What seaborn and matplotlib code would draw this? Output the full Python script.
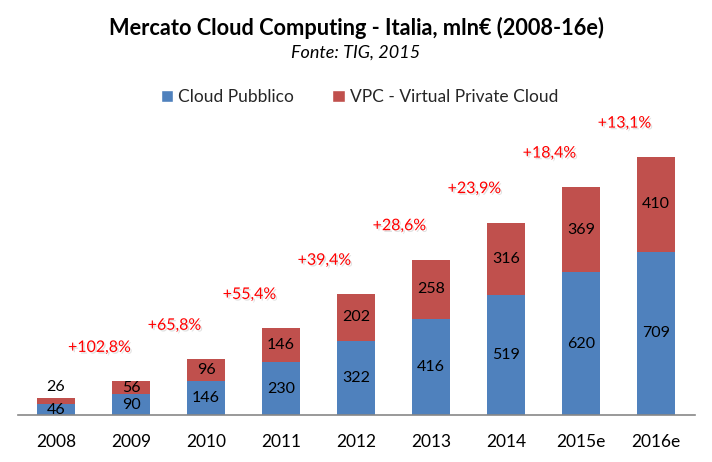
import matplotlib
matplotlib.use('Agg')
import matplotlib.pyplot as plt
import matplotlib.patheffects as pe
from matplotlib.patches import Patch
import pandas as pd
import seaborn as sns

# Values (mln€)
years = ['2008', '2009', '2010', '2011', '2012', '2013', '2014', '2015e', '2016e']
cloud_pubblico = [46, 90, 146, 230, 322, 416, 519, 620, 709]
vpc = [26, 56, 96, 146, 202, 258, 316, 369, 410]
growth_labels = ['+102,8%', '+65,8%', '+55,4%', '+39,4%', '+28,6%',
                 '+23,9%', '+18,4%', '+13,1%']

blue = '#4F81BD'
red = '#C0504D'

sns.set_theme(style='white')
plt.rcParams['font.family'] = ['Lato', 'DejaVu Sans']

df = pd.DataFrame({'anno': years, 'pubblico': cloud_pubblico, 'vpc': vpc})
df['totale'] = df['pubblico'] + df['vpc']

fig = plt.figure(figsize=(7.12, 4.62), dpi=100)
ax = fig.add_axes([0.0253, 0.1017, 0.9508, 0.6602])

# stacked bars: total in red, public cloud in blue drawn over it
sns.barplot(data=df, x='anno', y='totale', color=red, saturation=1, width=0.51,
            linewidth=0, ax=ax)
sns.barplot(data=df, x='anno', y='pubblico', color=blue, saturation=1, width=0.51,
            linewidth=0, ax=ax)

ax.set_xlim(-0.507, 8.52)
ax.set_ylim(0, 1323)
ax.set(xlabel='', ylabel='', yticks=[])
for s in ['top', 'left', 'right']:
    ax.spines[s].set_visible(False)
ax.spines['bottom'].set_color('#888888')
ax.spines['bottom'].set_linewidth(1.2)
ax.tick_params(axis='x', length=0, pad=14, labelsize=12.5, labelcolor='black')

# segment labels
for i, row in df.iterrows():
    ax.text(i, row['pubblico'] / 2, str(row['pubblico']), ha='center', va='center',
            fontsize=11.5, color='black')
    if row['vpc'] < 40:
        ax.text(i, row['totale'] + 18, str(row['vpc']), ha='center', va='bottom',
                fontsize=11.5, color='black')
    else:
        ax.text(i, row['pubblico'] + row['vpc'] / 2, str(row['vpc']), ha='center',
                va='center', fontsize=11.5, color='black')

# growth labels, placed up-left of each bar from 2009 on, soft shadow like Excel
shadow = [pe.SimplePatchShadow(offset=(1.2, -1.2), shadow_rgbFace='#999999', alpha=0.3),
          pe.Normal()]
for i, lab in enumerate(growth_labels, start=1):
    t = ax.text(i - 0.42, df['totale'][i] + 145, lab, ha='center', va='center',
                fontsize=11.5, color='#FF0000')
    t.set_path_effects(shadow)

fig.text(0.5, 0.94, 'Mercato Cloud Computing - Italia, mln€ (2008-16e)',
         ha='center', va='center', fontsize=15.7, fontweight='bold', color='black')
fig.text(0.5, 0.887, 'Fonte: TIG, 2015', ha='center', va='center',
         fontsize=13, fontstyle='italic', color='black')

handles = [Patch(facecolor=blue), Patch(facecolor=red)]
fig.legend(handles, ['Cloud Pubblico', 'VPC - Virtual Private Cloud'],
           loc='center', bbox_to_anchor=(0.505, 0.79), ncol=2, frameon=False,
           fontsize=12.5, handlelength=0.7, handleheight=0.7, handletextpad=0.3,
           columnspacing=2.2)

fig.savefig('out.png', dpi=100)
